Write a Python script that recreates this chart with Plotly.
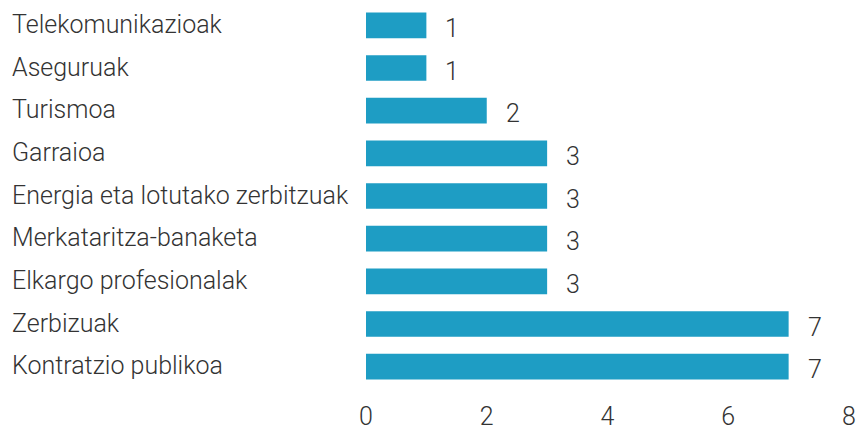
import plotly.graph_objects as go

categories = [
    "Telekomunikazioak",
    "Aseguruak",
    "Turismoa",
    "Garraioa",
    "Energia eta lotutako zerbitzuak",
    "Merkataritza-banaketa",
    "Elkargo profesionalak",
    "Zerbizuak",
    "Kontratzio publikoa",
]
values = [1, 1, 2, 3, 3, 3, 3, 7, 7]
x_ticks = [0, 2, 4, 6, 8]

BAR = "#1E9DC4"
TXT = "#333333"
FONT = "Roboto"
FS = 25

W, H = 857, 430
ML, MR, MT, MB = 366, 8, 4, 42
pw = W - ML - MR

fig = go.Figure()
fig.add_trace(go.Bar(
    x=values, y=categories, orientation="h",
    marker=dict(color=BAR, line=dict(width=0)),
    width=0.6, hoverinfo="skip",
))

ann = []
for c, v in zip(categories, values):
    ann.append(dict(x=v, y=c, xref="x", yref="y", text=str(v), showarrow=False,
                    xanchor="left", yanchor="middle", xshift=17, yshift=-3,
                    font=dict(family=FONT, size=FS, color=TXT, weight=300)))
    ann.append(dict(x=(10 - ML) / pw, y=c, xref="paper", yref="y", text=c, showarrow=False,
                    xanchor="left", yanchor="middle", yshift=1,
                    font=dict(family=FONT, size=FS, color=TXT, weight=300)))

fig.update_layout(
    width=W, height=H,
    margin=dict(l=ML, r=MR, t=MT, b=MB, autoexpand=False),
    paper_bgcolor="white", plot_bgcolor="white",
    showlegend=False,
    bargap=0.4,
    annotations=ann,
    xaxis=dict(range=[0, 8], tickvals=x_ticks, ticktext=[str(t) for t in x_ticks],
               showgrid=False, zeroline=False, showline=False, ticks="",
               automargin=False, ticklabelstandoff=11,
               tickfont=dict(family=FONT, size=FS, color=TXT, weight=300)),
    yaxis=dict(autorange="reversed", showticklabels=False, showgrid=False,
               zeroline=False, showline=False, ticks="", automargin=False),
)

fig.write_html("out.html", config={"responsive": False, "displayModeBar": False},
               post_script="document.body.style.margin='0';document.body.style.overflow='hidden';")
